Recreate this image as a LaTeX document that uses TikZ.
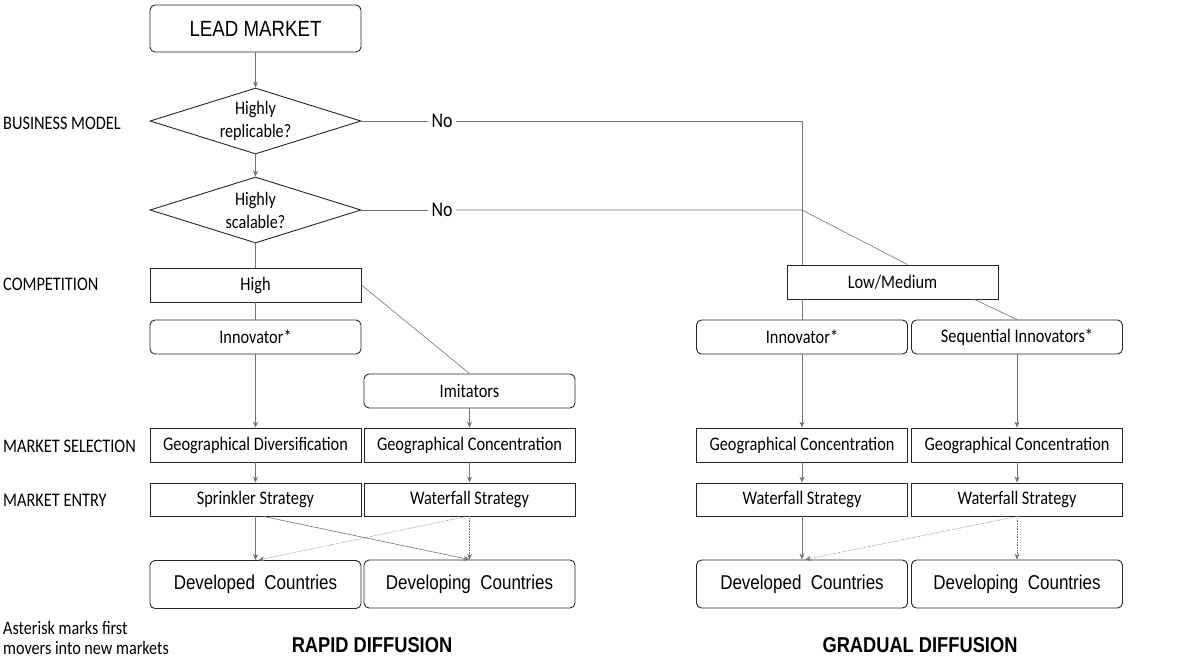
\documentclass[tikz,border=0pt]{standalone}
\usepackage{fontspec}
\setmainfont{Carlito}[FakeStretch=0.85]
\newfontfamily\arialfont{Liberation Sans}[FakeStretch=0.85]
\usetikzlibrary{shapes.geometric,arrows.meta}

\tikzset{
  box/.style={draw=black!85, line width=0.9pt, fill=white, minimum width=211pt,
    minimum height=34pt, inner sep=0pt, font=\fontsize{19.2}{22}\selectfont},
  rbox/.style={box, rounded corners=5pt},
  country/.style={rbox, minimum height=48pt, font=\arialfont\fontsize{20}{24}\selectfont},
  decision/.style={draw=black!85, line width=0.9pt, fill=white, diamond, aspect=3.2,
    minimum width=211pt, minimum height=66pt, inner sep=0pt, align=center,
    font=\fontsize{19}{23}\selectfont},
  level/.style={anchor=west, inner sep=0pt, font=\fontsize{19.2}{22}\selectfont},
  link/.style={draw=black!55, line width=0.6pt},
  flow/.style={link, ->},
  maybe/.style={flow, densely dotted},
  heading/.style={font=\arialfont\bfseries\fontsize{21.5}{24}\selectfont}
}

\begin{document}
\begin{tikzpicture}[x=1pt, y=-1pt, >={Stealth[length=6pt,width=5pt]}]
  \useasboundingbox (0,0) rectangle (1201,659);

  % row labels
  \node[level] (labmodel) at (3,123) {BUSINESS MODEL};
  \node[level] (labcomp) at (3,284) {COMPETITION};
  \node[level] (labselect) at (3,446) {MARKET SELECTION};
  \node[level] (labentry) at (3,500) {MARKET ENTRY};
  \node[level, align=left, font=\fontsize{19}{20}\selectfont] (note) at (3,638)
    {Asterisk marks first\\movers into new markets};

  \node[rbox, minimum height=47pt, font=\arialfont\fontsize{22}{26}\selectfont] (lead) at (255.5,28.5) {LEAD MARKET};
  \node[decision] (replic) at (255.5,121) {Highly\\replicable?};
  \node[decision] (scal) at (255.5,210) {Highly\\scalable?};
  \node[font=\fontsize{21}{24}\selectfont] (noA) at (442,121) {No};
  \node[font=\fontsize{21}{24}\selectfont] (noB) at (442,210) {No};

  % rapid diffusion
  \node[box] (high) at (255.5,285) {High};
  \node[rbox] (innoA) at (255.5,337) {Innovator*};
  \node[rbox] (imit) at (469.5,391) {Imitators};
  \node[box] (divA) at (255.5,445) {Geographical Diversification};
  \node[box] (concA) at (469.5,445) {Geographical Concentration};
  \node[box, minimum height=33pt] (sprinkA) at (255.5,499.5) {Sprinkler Strategy};
  \node[box, minimum height=33pt] (waterA) at (469.5,499.5) {Waterfall Strategy};
  \node[country] (devdA) at (255.5,584.5) {Developed\ \ Countries};
  \node[country] (devgA) at (469.5,584) {Developing\ \ Countries};

  % gradual diffusion
  \node[box] (lowmed) at (892.5,282) {Low/Medium};
  \node[rbox] (innoB) at (802,337) {Innovator*};
  \node[rbox] (seqB) at (1017,337) {Sequential Innovators*};
  \node[box] (concB) at (802,445) {Geographical Concentration};
  \node[box] (concC) at (1017,445) {Geographical Concentration};
  \node[box, minimum height=33pt] (waterB) at (802,499.5) {Waterfall Strategy};
  \node[box, minimum height=33pt] (waterC) at (1017,499.5) {Waterfall Strategy};
  \node[country] (devdB) at (802,584) {Developed\ \ Countries};
  \node[country] (devgB) at (1017,584) {Developing\ \ Countries};

  \node[heading] (rapid) at (372,645) {RAPID DIFFUSION};
  \node[heading] (gradual) at (920,645) {GRADUAL DIFFUSION};

  \draw[flow] (lead) -- (replic);
  \draw[flow] (replic) -- (scal);
  \draw[link] (replic.east) -- (noA.west);
  \draw[link] (noA.east) -| (lowmed.north -| innoB.north);
  \draw[link] (lowmed.south -| innoB.north) -- (innoB.north);
  \draw[link] (scal.east) -- (noB.west);
  \draw[link] (noB.east) -- (noB.east -| innoB.north) -- ([xshift=15pt]lowmed.north);
  \draw[link] (scal) -- (high);
  \draw[link] (high) -- (innoA);
  \draw[link] (high.east) -- (imit.north);
  \draw[link] ([xshift=82pt]lowmed.south) -- (seqB.north);

  \draw[flow] (innoA) -- (divA);
  \draw[flow] (imit) -- (concA);
  \draw[flow] (divA) -- (sprinkA);
  \draw[flow] (concA) -- (waterA);
  \draw[flow] (sprinkA) -- (devdA);
  \draw[flow] ([xshift=8pt]sprinkA.south) -- (devgA.north);
  \draw[maybe] (waterA) -- (devgA);
  \draw[maybe] ([xshift=-3pt]waterA.south) -- ([xshift=3pt]devdA.north);

  \draw[flow] (innoB) -- (concB);
  \draw[flow] (seqB) -- (concC);
  \draw[flow] (concB) -- (waterB);
  \draw[flow] (concC) -- (waterC);
  \draw[flow] (waterB) -- (devdB);
  \draw[maybe] (waterC) -- (devgB);
  \draw[maybe] (waterC.south) -- ([xshift=3pt]devdB.north);
\end{tikzpicture}
\end{document}
